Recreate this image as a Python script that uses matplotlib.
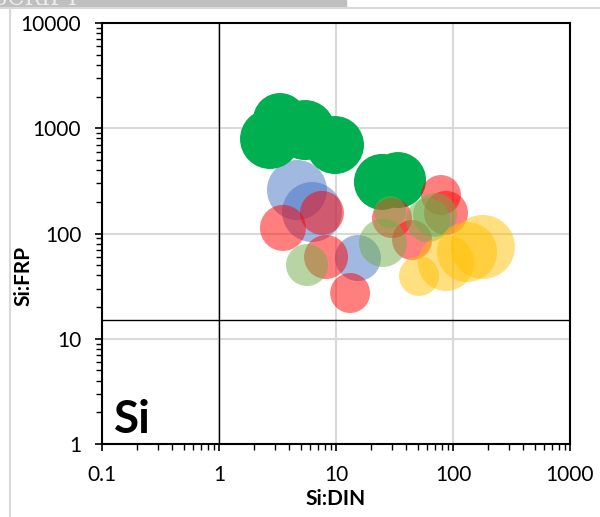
import numpy as np
import matplotlib
matplotlib.use('Agg')
import matplotlib.pyplot as plt
from matplotlib.lines import Line2D
from matplotlib.patches import Rectangle
from matplotlib.ticker import LogLocator, FixedLocator, FuncFormatter

plt.rcParams['font.family'] = ['Lato', 'DejaVu Sans']

# Si:DIN, Si:FRP and bubble size for each group
green_x = [2.73, 3.32, 5.43, 9.8, 24.7, 33.9]
green_y = [791, 1197, 962, 693, 309, 322]
green_z = [30, 27, 30, 29, 28, 28]

blue_x = [4.64, 6.24, 15.4]
blue_y = [259, 160, 58.5]
blue_z = [30, 30, 23]

red_x = [3.52, 7.59, 8.22, 13.2, 30.1, 44.7, 78.9, 87.1]
red_y = [113, 157, 59.8, 27.2, 140, 86.7, 232, 157]
red_z = [23, 22, 22, 20, 20, 20, 20, 22]

lgreen_x = [5.65, 25.2, 29.0, 61.1, 70.2]
lgreen_y = [50.2, 81.3, 160, 134, 150]
lgreen_z = [21, 24, 16, 22, 22]

yellow_x = [51.2, 87.1, 132, 180]
yellow_y = [39.5, 52.5, 66.7, 74.5]
yellow_z = [20, 28, 30, 32]

fig = plt.figure(figsize=(6, 5.17), dpi=100)
ax = fig.add_axes([0.17, 0.1412, 0.78, 0.8143])


def sz(z):
    return (np.array(z) * 1.44) ** 2


ax.scatter(blue_x, blue_y, s=sz(blue_z), color='#4472C4', alpha=0.5, lw=0, zorder=3)
ax.scatter(green_x, green_y, s=sz(green_z), color='#00B050', lw=0, zorder=4)
ax.scatter(red_x, red_y, s=sz(red_z), color='#FF0000', alpha=0.5, lw=0, zorder=5)
ax.scatter(lgreen_x, lgreen_y, s=sz(lgreen_z), color='#70AD47', alpha=0.5, lw=0, zorder=6)
ax.scatter(yellow_x, yellow_y, s=sz(yellow_z), color='#FFC000', alpha=0.5, lw=0, zorder=7)

ax.set_xscale('log')
ax.set_yscale('log')
ax.set_xlim(0.1, 1000)
ax.set_ylim(1, 10000)

# reference lines
ax.axvline(1, color='black', lw=1, zorder=2)
ax.axhline(15, color='black', lw=1, zorder=2)

ax.xaxis.set_major_locator(FixedLocator([0.1, 1, 10, 100, 1000]))
ax.yaxis.set_major_locator(FixedLocator([1, 10, 100, 1000, 10000]))
ax.xaxis.set_minor_locator(LogLocator(base=10, subs=np.arange(2, 10)))
ax.yaxis.set_minor_locator(LogLocator(base=10, subs=np.arange(2, 10)))
fmt = FuncFormatter(lambda v, p: '%g' % v)
ax.xaxis.set_major_formatter(fmt)
ax.yaxis.set_major_formatter(fmt)
ax.tick_params(which='major', direction='out', length=5, width=1.2, labelsize=15, pad=10)
ax.tick_params(which='minor', direction='out', length=4, width=1.0)
ax.grid(True, which='major', color='#D9D9D9', lw=1.5, zorder=0)

for sp in ax.spines.values():
    sp.set_linewidth(1.5)
    sp.set_color('black')

ax.set_xlabel('Si:DIN', fontsize=15, fontweight='bold', labelpad=3)
ax.set_ylabel('Si:FRP', fontsize=15, fontweight='bold')
ax.yaxis.set_label_coords(-0.147, 0.40)

ax.text(0.026, 0.026, 'Si', transform=ax.transAxes, fontsize=33,
        fontweight='bold', ha='left', va='baseline', zorder=8)

# page header strip and frame lines
fig.patches.append(Rectangle((0, 1 - 7 / 517), 346 / 600, 7 / 517,
                             transform=fig.transFigure, color='#BFBFBF', zorder=0))
fig.text(80 / 600, 1 - 5 / 517, 'ACCEPTED MANUSCRIPT', ha='right', va='baseline',
         fontsize=16, family='DejaVu Serif', color='#EDEDED', zorder=1)
fig.lines.append(Line2D([0, 1], [1 - 8 / 517, 1 - 8 / 517], transform=fig.transFigure,
                        color='#D9D9D9', lw=1.5))
fig.lines.append(Line2D([10 / 600, 10 / 600], [0, 1 - 8 / 517], transform=fig.transFigure,
                        color='#D9D9D9', lw=1.5))

fig.savefig('out.png', dpi=100)
